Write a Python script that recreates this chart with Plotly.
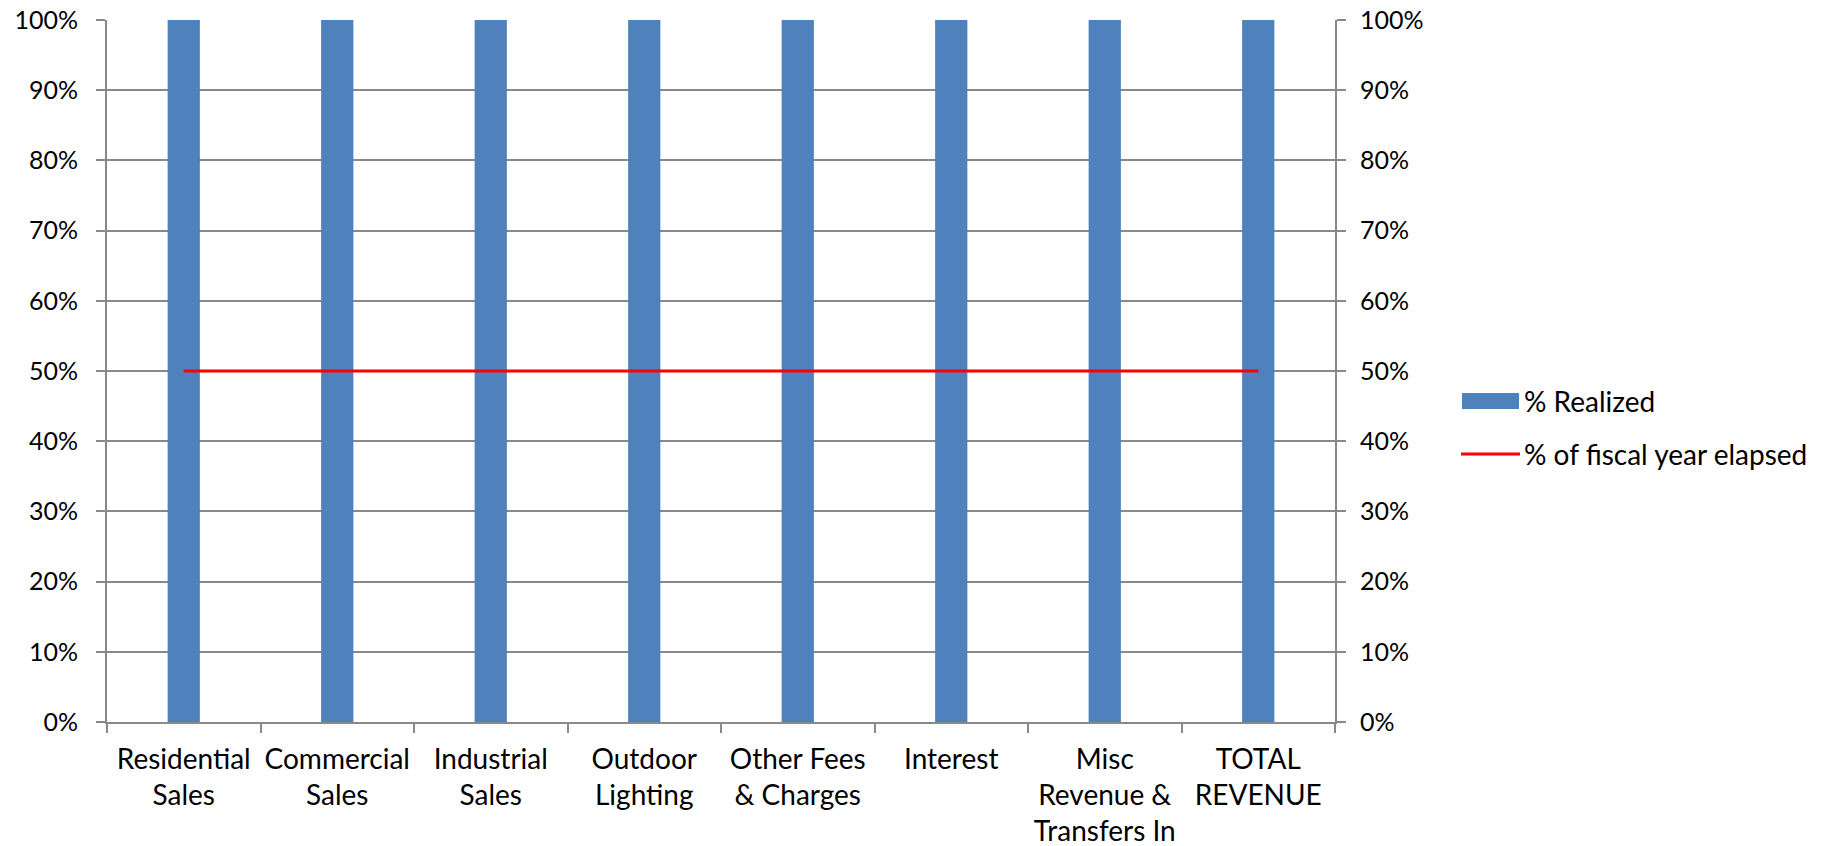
import plotly.graph_objects as go

categories = ["Residential<br>Sales", "Commercial<br>Sales", "Industrial<br>Sales",
              "Outdoor<br>Lighting", "Other Fees<br>& Charges", "Interest",
              "Misc<br>Revenue &<br>Transfers In", "TOTAL<br>REVENUE"]
pct_realized = [1.0, 1.0, 1.0, 1.0, 1.0, 1.0, 1.0, 1.0]
pct_elapsed = [0.5, 0.5, 0.5, 0.5, 0.5, 0.5, 0.5, 0.5]
y_ticks = [0, 0.1, 0.2, 0.3, 0.4, 0.5, 0.6, 0.7, 0.8, 0.9, 1.0]
legend_names = ["% Realized", "% of fiscal year elapsed"]

W, H = 1825, 846
L, R, T, B = 107, 1335, 20, 722
FONT = "Lato"
FS = 28
FSY = 25
GRID = "#898989"
BLUE = "#4F81BD"
RED = "#FF0000"

fig = go.Figure()
fig.add_trace(go.Bar(x=categories, y=pct_realized, marker_color=BLUE,
                     marker_line_width=0, name=legend_names[0], yaxis="y"))
fig.add_trace(go.Scatter(x=categories, y=pct_elapsed, mode="lines",
                         line=dict(color=RED, width=3), name=legend_names[1], yaxis="y2"))

def px_x(px):
    return (px - L) / (R - L)

def px_y(py):
    return (B - py) / (B - T)

shapes = [
    dict(type="rect", xref="paper", yref="paper", x0=px_x(1462), x1=px_x(1519),
         y0=px_y(409), y1=px_y(393), fillcolor=BLUE, line=dict(width=0)),
    dict(type="line", xref="paper", yref="paper", x0=px_x(1461), x1=px_x(1520),
         y0=px_y(454), y1=px_y(454), line=dict(color=RED, width=3)),
]
annotations = [
    dict(xref="paper", yref="paper", x=px_x(1522), y=px_y(401), text=legend_names[0],
         showarrow=False, xanchor="left", yanchor="middle",
         font=dict(family=FONT, size=FS, color="black")),
    dict(xref="paper", yref="paper", x=px_x(1522), y=px_y(454), text=legend_names[1],
         showarrow=False, xanchor="left", yanchor="middle",
         font=dict(family=FONT, size=FS, color="black")),
]

axis_common = dict(range=[0, 1], tickvals=y_ticks, tickformat=".0%",
                   ticks="outside", ticklen=9, tickcolor=GRID, tickwidth=2,
                   showline=True, linecolor=GRID, linewidth=2,
                   tickfont=dict(family=FONT, size=FSY, color="black"),
                   zeroline=False, fixedrange=True)

fig.update_layout(
    width=W, height=H,
    margin=dict(l=L, r=W - R, t=T, b=H - B, autoexpand=False),
    paper_bgcolor="white", plot_bgcolor="white",
    showlegend=False,
    bargap=0.79,
    font=dict(family=FONT, size=FS, color="black"),
    xaxis=dict(type="category", tickson="boundaries", ticks="outside", ticklen=9,
               tickcolor=GRID, tickwidth=2, showline=True, linecolor=GRID, linewidth=2,
               showgrid=False, tickangle=0, ticklabelstandoff=11,
               tickfont=dict(family=FONT, size=FS, color="black")),
    yaxis=dict(side="left", showgrid=True, gridcolor=GRID, gridwidth=2,
               ticklabelstandoff=13, **axis_common),
    yaxis2=dict(side="right", overlaying="y", showgrid=False,
                ticklabelstandoff=9, **axis_common),
    shapes=shapes,
    annotations=annotations,
)

fig.write_html("out.html")
